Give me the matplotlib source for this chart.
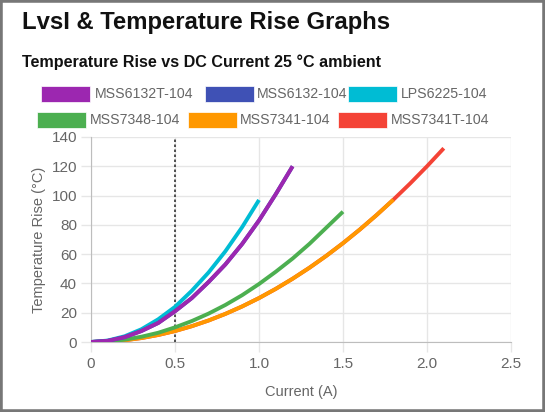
import matplotlib
matplotlib.use("Agg")
import matplotlib.pyplot as plt
from matplotlib.patches import Rectangle

# current (A) sample points and temperature rise (°C) per part
current_6132 = [0.0, 0.1, 0.2, 0.3, 0.4, 0.5, 0.6, 0.7, 0.8, 0.9, 1.0, 1.1, 1.2]
rise_6132t = [0, 0.8, 3.3, 7.5, 13, 21, 30, 41, 53, 67, 83, 101, 120]
rise_6132 = [0, 0.8, 3.3, 7.5, 13, 21, 30, 41, 53, 67, 83, 101, 120]

current_6225 = [0.0, 0.1, 0.2, 0.3, 0.4, 0.5, 0.6, 0.7, 0.8, 0.9, 1.0]
rise_6225 = [0, 1, 3.9, 8.7, 15.5, 24, 35, 47.5, 62, 78.5, 97]

current_7348 = [0.0, 0.1, 0.2, 0.3, 0.4, 0.5, 0.6, 0.7, 0.8, 0.9, 1.0, 1.1, 1.2, 1.3, 1.4, 1.5]
rise_7348 = [0, 0.4, 1.6, 3.6, 6.3, 10, 14.3, 19.4, 25.3, 32, 39.6, 48, 57, 67, 78, 89]

current_7341 = [0.0, 0.1, 0.2, 0.3, 0.4, 0.5, 0.6, 0.7, 0.8, 0.9, 1.0, 1.1, 1.2, 1.3,
                1.4, 1.5, 1.6, 1.7, 1.8]
rise_7341 = [0, 0.3, 1.2, 2.7, 4.8, 7.5, 10.8, 14.7, 19.2, 24.3, 30, 36.3, 43.2, 50.7,
             58.8, 67.5, 76.8, 86.7, 97.2]

current_7341t = [0.0, 0.1, 0.2, 0.3, 0.4, 0.5, 0.6, 0.7, 0.8, 0.9, 1.0, 1.1, 1.2, 1.3,
                 1.4, 1.5, 1.6, 1.7, 1.8, 1.9, 2.0, 2.1]
rise_7341t = [0, 0.3, 1.2, 2.7, 4.8, 7.5, 10.8, 14.7, 19.2, 24.3, 30, 36.3, 43.2, 50.7,
              58.8, 67.5, 76.8, 86.7, 97.2, 108.3, 120, 132.3]

series = [
    ("MSS6132T-104", current_6132, rise_6132t, "#9C27B0"),
    ("MSS6132-104", current_6132, rise_6132, "#3F51B5"),
    ("LPS6225-104", current_6225, rise_6225, "#00BCD4"),
    ("MSS7348-104", current_7348, rise_7348, "#4CAF50"),
    ("MSS7341-104", current_7341, rise_7341, "#FF9800"),
    ("MSS7341T-104", current_7341t, rise_7341t, "#F44336"),
]
marker_current = 0.5

W, H = 545, 412
fig = plt.figure(figsize=(W / 100, H / 100), dpi=100)
plt.rcParams['font.family'] = ['Liberation Sans', 'DejaVu Sans']

def px(x, y):
    return x / W, 1 - y / H

ax = fig.add_axes([91 / W, 1 - 342 / H, (511 - 91) / W, (342 - 137) / H])

# first series on top, like the web chart
n = len(series)
for i, (name, xs, ys, col) in enumerate(series):
    ax.plot(xs, ys, color=col, lw=2.8, solid_capstyle='butt', solid_joinstyle='round',
            zorder=10 + n - i)

ax.axvline(marker_current, color="#333333", lw=1.2, ls=(0, (1.5, 1.5)), zorder=5)

ax.set_xlim(0, 2.5)
ax.set_ylim(0, 140)
ax.set_xticks([0, 0.5, 1.0, 1.5, 2.0, 2.5])
ax.set_xticklabels(["0", "0.5", "1.0", "1.5", "2.0", "2.5"])
ax.set_yticks(range(0, 141, 20))
ax.grid(True, color="#e6e6e6", lw=1)
ax.set_axisbelow(True)
for s in ["top", "right"]:
    ax.spines[s].set_visible(False)
for s in ["left", "bottom"]:
    ax.spines[s].set_color("#bdbdbd")
ax.tick_params(colors="#e6e6e6", labelcolor="#666666", labelsize=11, length=7, width=1)
ax.tick_params(axis="x", pad=4)
ax.tick_params(axis="y", pad=3)
ax.set_xlabel("Current (A)", color="#666666", fontsize=10.5, labelpad=10)
ax.set_ylabel("Temperature Rise (°C)", color="#666666", fontsize=10.5, labelpad=4)

# titles
fig.text(*px(22, 23), "LvsI & Temperature Rise Graphs", fontsize=17.2, fontweight="bold",
         va="center", ha="left", color="#111111")
fig.text(*px(22, 62), "Temperature Rise vs DC Current 25 °C ambient", fontsize=11.6,
         fontweight="bold", va="center", ha="left", color="#111111")

# legend boxes laid out like the original
legend_pos = [(41, 94, 95), (205, 94, 257), (348, 94, 401),
              (37, 120, 90), (188, 120, 240), (338, 120, 391)]
for (name, xs, ys, col), (bx, by, tx) in zip(series, legend_pos):
    x0, y0 = px(bx, by + 8)
    fig.patches.append(Rectangle((x0, y0), 49 / W, 16 / H, transform=fig.transFigure,
                                 facecolor=col, edgecolor="white", lw=0.5))
    fig.text(*px(tx, by), name, fontsize=10.2, color="#666666", va="center", ha="left")

# frame around image
fig.patches.append(Rectangle((0, 0), 1, 1, transform=fig.transFigure, fill=False,
                             edgecolor="#777777", lw=4))

fig.savefig("out.png", dpi=100)
